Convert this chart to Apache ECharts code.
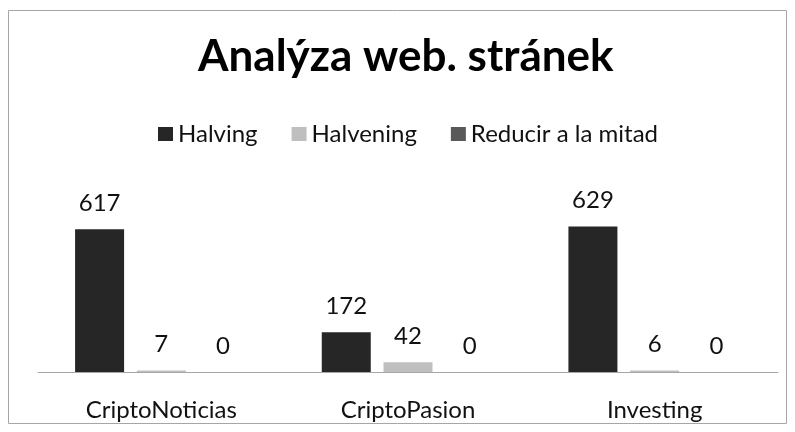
<!DOCTYPE html>
<html>
<head>
<meta charset="utf-8">
<title>Analýza web. stránek</title>
<script src="https://cdn.jsdelivr.net/npm/echarts@6/dist/echarts.min.js"></script>
<style>
  html, body { margin: 0; padding: 0; background: #fff; }
  #chart { width: 795px; height: 432px; }
</style>
</head>
<body>
<div id="chart"></div>
<script>
  // data
  var categories = ['CriptoNoticias', 'CriptoPasion', 'Investing'];
  var halving = [617, 172, 629];
  var halvening = [7, 42, 6];
  var reducir = [0, 0, 0];

  var font = 'Lato, "Open Sans", sans-serif';
  var chart = echarts.init(document.getElementById('chart'));

  function barSeries(name, data, color) {
    return {
      name: name,
      type: 'bar',
      data: data,
      barWidth: 49,
      barGap: '26%',
      itemStyle: { color: color },
      label: {
        show: true,
        position: 'top',
        distance: 14,
        color: '#111',
        fontFamily: font,
        fontSize: 24
      }
    };
  }

  chart.setOption({
    animation: false,
    title: {
      text: 'Analýza web. stránek',
      left: 193,
      top: 30,
      textStyle: { fontFamily: font, fontSize: 44, fontWeight: 'bold', color: '#000' }
    },
    legend: {
      top: 117,
      left: 153,
      itemWidth: 15,
      itemHeight: 14,
      itemGap: 34,
      icon: 'rect',
      textStyle: { fontFamily: font, fontSize: 24, color: '#111' },
      data: ['Halving', 'Halvening', 'Reducir a la mitad']
    },
    graphic: [{
      type: 'rect',
      shape: { x: 8.5, y: 10.5, width: 778, height: 413 },
      style: { fill: 'none', stroke: '#a6a6a6', lineWidth: 1 },
      silent: true
    }],
    grid: { left: 38, right: 17, top: 210, bottom: 60 },
    xAxis: {
      type: 'category',
      data: categories,
      axisTick: { show: false },
      axisLine: { lineStyle: { color: '#a6a6a6', width: 1 } },
      axisLabel: { fontFamily: font, fontSize: 24, color: '#111', margin: 26 }
    },
    yAxis: {
      type: 'value',
      min: 0,
      max: 700,
      show: false,
      splitLine: { show: false }
    },
    series: [
      barSeries('Halving', halving, '#262626'),
      barSeries('Halvening', halvening, '#bfbfbf'),
      barSeries('Reducir a la mitad', reducir, '#595959')
    ]
  });
</script>
</body>
</html>
